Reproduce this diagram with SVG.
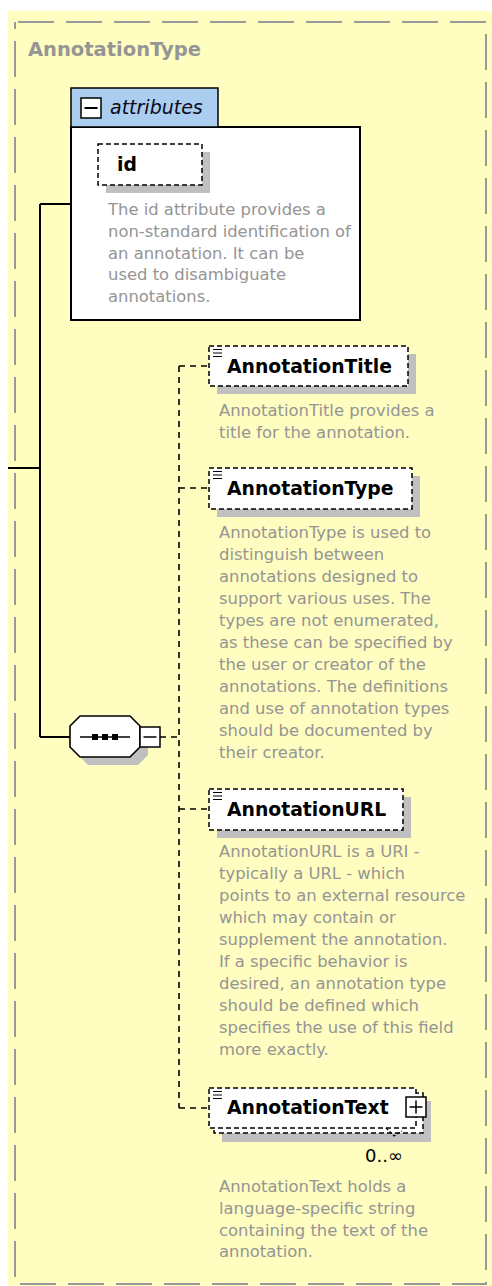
<svg xmlns="http://www.w3.org/2000/svg" width="492" height="1286" viewBox="0 0 492 1286">
<style>
.desc{font-family:"DejaVu Sans",Verdana,sans-serif;font-size:16.4px;fill:#959595}
.name{font-family:"DejaVu Sans",Verdana,sans-serif;font-weight:bold;font-size:18.8px;fill:#000}
.box{fill:#fff;stroke:#000;stroke-width:1.5;stroke-dasharray:5 3}
.shadow{fill:#c0c0c0}
.conn{stroke:#000;stroke-width:2;fill:none}
.dconn{stroke:#000;stroke-width:1.6;stroke-dasharray:6 5;fill:none}
.icon{stroke:#000;stroke-width:1.2}
</style>
<rect x="8" y="11" width="484" height="1275" fill="#FFFDC0"/>
<path d="M18,22 H486 V1284 H15 V22" fill="none" stroke="#999" stroke-width="2" stroke-dasharray="36 12"/>
<text x="28" y="56" font-family="DejaVu Sans,Verdana,sans-serif" font-weight="bold" font-size="19.5" fill="#959595">AnnotationType</text>

<g id="connectors">
<path class="conn" d="M8,468 H40 M40,204 V737 M40,204 H71 M40,737 H70"/>
<path class="dconn" d="M160,737 H179 M179,366 V1108 M179,366 H209 M179,488 H209 M179,809 H209 M179,1108 H209"/>
</g>

<g id="attributes">
<rect x="71" y="127" width="289" height="193" fill="#fff" stroke="#000" stroke-width="2"/>
<rect x="71" y="88" width="147" height="39" fill="#ABCDF0" stroke="#000" stroke-width="1.5"/>
<rect x="81" y="98" width="20" height="20" fill="#fff" stroke="#000" stroke-width="1.5"/>
<line x1="84.5" y1="108" x2="97.5" y2="108" stroke="#000" stroke-width="2"/>
<text x="110" y="114" font-family="DejaVu Sans,Verdana,sans-serif" font-style="italic" font-size="19" fill="#0a0a1a">attributes</text>
<g id="id">
<rect class="shadow" x="106" y="152" width="104" height="41"/>
<rect class="box" x="98" y="144" width="104" height="41"/>
<text class="name" x="117" y="171">id</text>
</g>
<text class="desc" x="108" y="215"><tspan x="108">The id attribute provides a</tspan><tspan x="108" dy="21.8">non-standard identification of</tspan><tspan x="108" dy="21.8">an annotation. It can be</tspan><tspan x="108" dy="21.8">used to disambiguate</tspan><tspan x="108" dy="21.8">annotations.</tspan></text>
</g>

<g id="sequence">
<polygon points="88,724 138,724 148,734 148,755 138,765 88,765 78,755 78,734" fill="#c0c0c0"/>
<polygon points="80,716 130,716 140,726 140,747 130,757 80,757 70,747 70,726" fill="#fff" stroke="#000" stroke-width="1.6"/>
<line x1="80" y1="737" x2="130" y2="737" stroke="#000" stroke-width="1.5"/>
<rect x="92" y="734" width="6" height="6"/>
<rect x="102" y="734" width="6" height="6"/>
<rect x="112" y="734" width="6" height="6"/>
<rect x="140" y="727" width="20" height="20" fill="#fff" stroke="#000" stroke-width="1.5"/>
<line x1="143.5" y1="737" x2="156.5" y2="737" stroke="#000" stroke-width="1.5"/>
</g>

<g id="AnnotationTitle">
<rect class="shadow" x="217" y="354" width="199" height="40"/>
<rect class="box" x="209" y="346" width="199" height="40"/>
<path class="icon" d="M213,349.5 H222 M213,353 H222 M213,356.5 H222"/>
<text class="name" x="227" y="373">AnnotationTitle</text>
<text class="desc" y="416"><tspan x="219">AnnotationTitle provides a</tspan><tspan x="219" dy="22">title for the annotation.</tspan></text>
</g>

<g id="AnnotationType">
<rect class="shadow" x="217" y="476" width="203" height="41"/>
<rect class="box" x="209" y="468" width="203" height="41"/>
<path class="icon" d="M213,471.5 H222 M213,475 H222 M213,478.5 H222"/>
<text class="name" x="227" y="495">AnnotationType</text>
<text class="desc" y="538"><tspan x="219">AnnotationType is used to</tspan><tspan x="219" dy="22">distinguish between</tspan><tspan x="219" dy="22">annotations designed to</tspan><tspan x="219" dy="22">support various uses. The</tspan><tspan x="219" dy="22">types are not enumerated,</tspan><tspan x="219" dy="22">as these can be specified by</tspan><tspan x="219" dy="22">the user or creator of the</tspan><tspan x="219" dy="22">annotations. The definitions</tspan><tspan x="219" dy="22">and use of annotation types</tspan><tspan x="219" dy="22">should be documented by</tspan><tspan x="219" dy="22">their creator.</tspan></text>
</g>

<g id="AnnotationURL">
<rect class="shadow" x="217" y="797" width="194" height="41"/>
<rect class="box" x="209" y="789" width="194" height="41"/>
<path class="icon" d="M213,792.5 H222 M213,796 H222 M213,799.5 H222"/>
<text class="name" x="227" y="816">AnnotationURL</text>
<text class="desc" y="857"><tspan x="219">AnnotationURL is a URI -</tspan><tspan x="219" dy="22">typically a URL - which</tspan><tspan x="219" dy="22">points to an external resource</tspan><tspan x="219" dy="22">which may contain or</tspan><tspan x="219" dy="22">supplement the annotation.</tspan><tspan x="219" dy="22">If a specific behavior is</tspan><tspan x="219" dy="22">desired, an annotation type</tspan><tspan x="219" dy="22">should be defined which</tspan><tspan x="219" dy="22">specifies the use of this field</tspan><tspan x="219" dy="22">more exactly.</tspan></text>
</g>

<g id="AnnotationText">
<rect class="shadow" x="222" y="1101" width="209" height="41"/>
<rect class="box" x="214" y="1093" width="209" height="40"/>
<rect class="box" x="209" y="1088" width="207" height="40"/>
<path class="icon" d="M213,1091.5 H222 M213,1095 H222 M213,1098.5 H222"/>
<text class="name" x="227" y="1114">AnnotationText</text>
<rect x="406" y="1097" width="20" height="20" fill="#fff" stroke="#000" stroke-width="1.5"/>
<path d="M409.5,1107 H422.5 M416,1100.5 V1113.5" stroke="#000" stroke-width="1.5"/>
<path d="M386,1128 L394,1136 L402,1131" fill="none" stroke="#000" stroke-width="1.3" stroke-dasharray="3 2"/>
<text x="365" y="1162" font-family="DejaVu Sans,Verdana,sans-serif" font-size="18" fill="#000">0..∞</text>
<text class="desc" y="1192"><tspan x="219">AnnotationText holds a</tspan><tspan x="219" dy="21.8">language-specific string</tspan><tspan x="219" dy="21.8">containing the text of the</tspan><tspan x="219" dy="21.8">annotation.</tspan></text>
</g>
</svg>
